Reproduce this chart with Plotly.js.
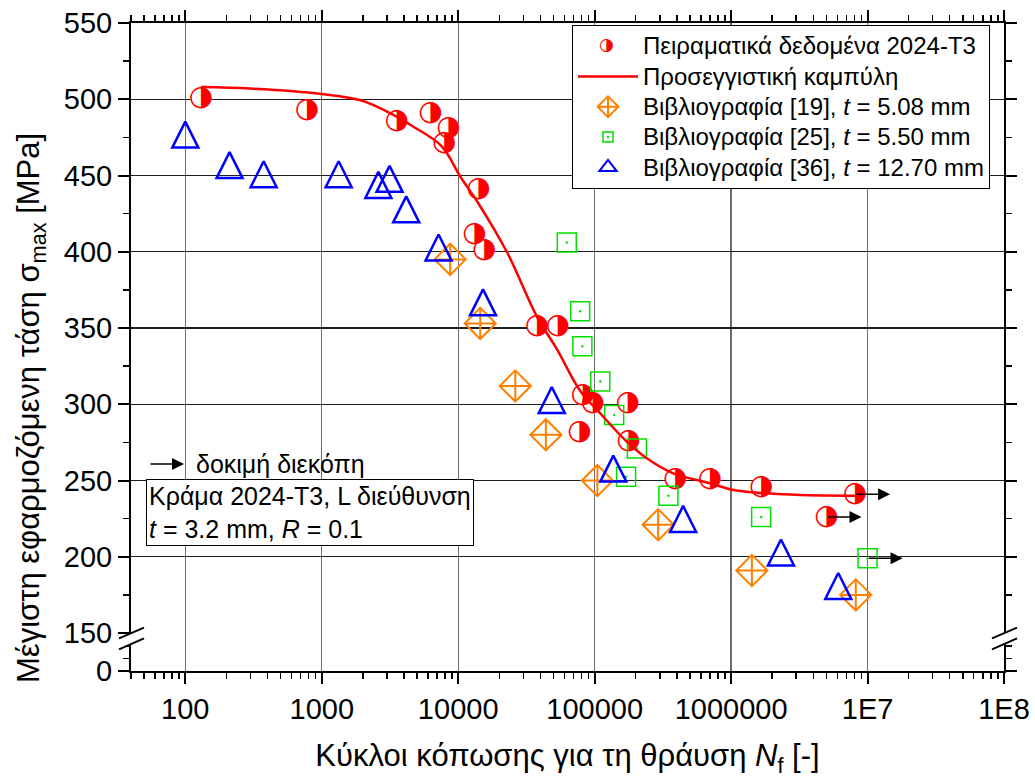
<!DOCTYPE html>
<html>
<head>
<meta charset="utf-8">
<script src="https://cdn.plot.ly/plotly-3.0.1.min.js"></script>
<style>
html,body{margin:0;padding:0;background:#fff;}
#chart{width:1035px;height:778px;}
</style>
</head>
<body>
<div id="chart"></div>
<script>
// ---------------- data ----------------
const expCycles = [130, 780, 3550, 6250, 7900, 8500, 13150, 14100, 15500, 37800, 53600, 77400, 81800, 97000, 175000, 177000, 389000, 700000, 1660000, 5000000, 8100000];
const expStress = [501, 493, 486, 491, 471, 481, 411.5, 441, 401, 351, 351, 281.5, 306, 301, 301, 276, 251, 251, 246, 226, 241];
const expRunout = [false,false,false,false,false,false,false,false,false,false,false,false,false,false,false,false,false,false,false,true,true];

const fitCycles = [130, 300, 1000, 1900, 2700, 4700, 7600, 10400, 14000, 23000, 38000, 53000, 78000, 110000, 172000, 241000, 377000, 700000, 1040000, 1820000, 3200000, 8100000];
const fitStress = [508, 507, 503.5, 499.5, 494, 482, 469, 449, 432, 399, 357, 336, 309, 294, 275.5, 264.6, 254.7, 248.2, 243.8, 241.6, 240.5, 240];

const ref19Cycles = [8730, 14500, 26200, 43900, 104700, 292000, 1420000, 8200000];
const ref19Stress = [395, 353, 312, 280, 250, 221, 191, 175];

const ref25Cycles = [62500, 78300, 81300, 110000, 139000, 170000, 204000, 347000, 1660000, 10000000];
const ref25Stress = [406, 361, 338, 315, 293, 252.5, 271, 240, 226, 199];
const ref25Runout = [false,false,false,false,false,false,false,false,false,true];

const ref36Cycles = [100, 211, 375, 1330, 2600, 3140, 4160, 7180, 15200, 48500, 137000, 445000, 2320000, 6100000];
const ref36Stress = [474, 454, 448, 448, 441, 445, 425, 400, 364, 300, 255, 222, 200, 178];

const xTickVals = [100, 1000, 10000, 100000, 1000000, 10000000, 100000000];
const xTickText = ['100', '1000', '10000', '100000', '1000000', '1E7', '1E8'];
const yTickVals = [150, 200, 250, 300, 350, 400, 450, 500, 550];
const yGridVals = [200, 250, 300, 350, 400, 450, 500];
const yLowTickVals = [0];

const seriesNames = [
  'Πειραματικά δεδομένα 2024-T3',
  'Προσεγγιστική καμπύλη',
  'Βιβλιογραφία [19], <i>t</i> = 5.08 mm',
  'Βιβλιογραφία [25], <i>t</i> = 5.50 mm',
  'Βιβλιογραφία [36], <i>t</i> = 12.70 mm'
];
const xTitle = 'Κύκλοι κόπωσης για τη θράυση <i>N</i><sub>f</sub> [-]';
const yTitle = 'Μέγιστη εφαρμοζόμενη τάση σ<sub>max</sub> [MPa]';
const noteText = 'Κράμα 2024-T3, L διεύθυνση<br><i>t</i> = 3.2 mm, <i>R</i> = 0.1';
const runoutText = 'δοκιμή διεκόπη';

// ---------------- styling ----------------
const FONT = 'Liberation Sans, Arial, Helvetica, sans-serif';
const RED = '#FF0000', ORANGE = '#FF8000', GREEN = '#00E000', BLUE = '#0000FF';
const xRange = [Math.log10(40), 8];
const yRange = [141.5, 550];
const legName = s => '<span style="font-size:24px">' + s + '</span>';
// legend-only copy of a series: same points, all drawn as "unselected" with zero opacity
const legendOnly = {selectedpoints: [], unselected: {marker: {opacity: 0}}, hoverinfo: 'skip'};

const traces = [
  { // experimental (white disc under the glyph, legend entry)
    x: expCycles, y: expStress, type: 'scatter', mode: 'markers', name: legName(seriesNames[0]),
    marker: {symbol: 'circle', size: 21, color: 'white', line: {color: RED, width: 0}},
    xaxis: 'x', yaxis: 'y'
  },
  { // experimental half-filled glyph
    x: expCycles, y: expStress, type: 'scatter', mode: 'text', text: '◑', showlegend: false,
    textposition: 'middle center',
    textfont: {family: 'DejaVu Sans', size: 28, color: RED},
    xaxis: 'x', yaxis: 'y', hoverinfo: 'skip'
  },
  { // fitted curve
    x: fitCycles, y: fitStress, type: 'scatter', mode: 'lines', name: legName(seriesNames[1]),
    line: {color: RED, width: 2.5, shape: 'spline', smoothing: 1},
    xaxis: 'x2', yaxis: 'y3'
  },
  {
    x: ref19Cycles, y: ref19Stress, type: 'scatter', mode: 'markers', name: legName(seriesNames[2]),
    marker: {symbol: 'diamond-cross-open', size: 24, color: ORANGE, line: {color: ORANGE, width: 2}},
    xaxis: 'x', yaxis: 'y'
  },
  Object.assign({ // legend symbol for [25]
    x: ref25Cycles, y: ref25Stress, type: 'scatter', mode: 'markers', name: legName(seriesNames[3]),
    marker: {symbol: 'square-open-dot', size: 10, color: GREEN, line: {color: GREEN, width: 1.5}},
    xaxis: 'x', yaxis: 'y'
  }, legendOnly),
  Object.assign({ // legend symbol for [36]
    x: ref36Cycles, y: ref36Stress, type: 'scatter', mode: 'markers', name: legName(seriesNames[4]),
    marker: {symbol: 'triangle-up-open', size: 15, color: BLUE, line: {color: BLUE, width: 2}},
    xaxis: 'x', yaxis: 'y'
  }, legendOnly),
  {
    x: ref25Cycles, y: ref25Stress, type: 'scatter', mode: 'markers', name: seriesNames[3], showlegend: false,
    marker: {symbol: 'square-open-dot', size: 19, color: GREEN, line: {color: GREEN, width: 1.5}},
    xaxis: 'x', yaxis: 'y'
  },
  { // triangles drawn as tall triangles, centred on the data point
    x: ref36Cycles, y: ref36Stress, type: 'scatter', mode: 'markers', name: seriesNames[4], showlegend: false,
    marker: {symbol: 'arrow-down-open', angle: 180, size: 26, standoff: 17.3, color: BLUE, line: {color: BLUE, width: 2.5}},
    xaxis: 'x', yaxis: 'y'
  },
  { // holds the lower (0) segment of the broken y axis
    x: [], y: [], type: 'scatter', mode: 'markers', showlegend: false, xaxis: 'x', yaxis: 'y2', hoverinfo: 'skip'
  }
];

// ---------------- annotations ----------------
const annotations = [];
function addRunouts(xs, ys, flags) {
  for (let i = 0; i < xs.length; i++) {
    if (!flags[i]) continue;
    annotations.push({
      x: Math.log10(xs[i]), y: ys[i], xref: 'x', yref: 'y',
      showarrow: true, text: '', ax: -35, ay: 0, axref: 'pixel', ayref: 'pixel',
      xshift: 35, arrowhead: 2, arrowsize: 1.6, arrowwidth: 1.5, arrowcolor: '#000', standoff: 0
    });
  }
}
addRunouts(expCycles, expStress, expRunout);
addRunouts(ref25Cycles, ref25Stress, ref25Runout);

// helpers for paper coordinates from pixel positions in the 1035x778 frame
const PL = 131, PW = 873, PB = 671, PH = 648;
const px = v => (v - PL) / PW;
const py = v => (PB - v) / PH;

annotations.push(
  { // y axis title
    text: yTitle, xref: 'paper', yref: 'paper', x: px(31), y: py(408), textangle: -90,
    showarrow: false, font: {family: FONT, size: 31, color: '#000'}, xanchor: 'center', yanchor: 'middle'
  },
  { // key arrow
    text: '', xref: 'paper', yref: 'paper', x: px(184), y: py(464), showarrow: true,
    ax: -35, ay: 0, axref: 'pixel', ayref: 'pixel', arrowhead: 2, arrowsize: 1.6, arrowwidth: 1.5, arrowcolor: '#000'
  },
  { // key text
    text: runoutText, xref: 'paper', yref: 'paper', x: px(194), y: py(464), xanchor: 'left', yanchor: 'middle',
    showarrow: false, font: {family: FONT, size: 25, color: '#000'}
  },
  { // note box
    text: noteText, xref: 'paper', yref: 'paper', x: px(146), y: py(479), xanchor: 'left', yanchor: 'top',
    align: 'left', showarrow: false, bordercolor: '#000', borderwidth: 1, borderpad: 2, bgcolor: 'white',
    font: {family: FONT, size: 25, color: '#000'}
  },
  { // half-filled symbol inside the legend
    text: '◑', xref: 'paper', yref: 'paper', x: px(606), y: py(44), xanchor: 'center', yanchor: 'middle',
    showarrow: false, font: {family: 'DejaVu Sans', size: 17, color: RED}
  }
);

// ---------------- axis break marks ----------------
function breakShapes(axisPx) {
  const x0 = px(axisPx - 12), x1 = px(axisPx + 13);
  const a0 = py(638.3), a1 = py(627.7), b0 = py(649.3), b1 = py(638.3);
  return [
    {type: 'path', xref: 'paper', yref: 'paper', layer: 'above',
     path: `M${x0},${a0} L${x1},${a1} L${x1},${b1} L${x0},${b0} Z`,
     fillcolor: 'white', line: {width: 0}},
    {type: 'line', xref: 'paper', yref: 'paper', layer: 'above', x0: x0, y0: a0, x1: x1, y1: a1, line: {color: '#000', width: 2}},
    {type: 'line', xref: 'paper', yref: 'paper', layer: 'above', x0: x0, y0: b0, x1: x1, y1: b1, line: {color: '#000', width: 2}}
  ];
}
const shapes = [...breakShapes(131), ...breakShapes(1004)];

const tickFont = {family: FONT, size: 29, color: '#000'};
const layout = {
  width: 1035, height: 778,
  margin: {l: 131, r: 31, t: 23, b: 107, pad: 0},
  paper_bgcolor: 'white', plot_bgcolor: 'white',
  font: {family: FONT, size: 24, color: '#000'},
  showlegend: true,
  hovermode: false,
  legend: {
    x: px(572), y: py(25), xanchor: 'left', yanchor: 'top',
    bgcolor: 'white', bordercolor: '#000', borderwidth: 1,
    font: {family: FONT, size: 21, color: '#000'},
    itemwidth: 60, tracegroupgap: 0
  },
  xaxis: {
    type: 'log', range: xRange, anchor: 'y2', domain: [0, 1],
    tickmode: 'array', tickvals: xTickVals, ticktext: xTickText, tickfont: tickFont,
    ticks: 'outside', ticklen: 11, tickwidth: 2, tickcolor: '#000',
    showline: true, linewidth: 2, linecolor: '#000', mirror: false,
    showgrid: true, gridcolor: '#6e6e6e', gridwidth: 1.3, zeroline: false,
    minor: {ticks: 'outside', ticklen: 6, tickwidth: 1.5, tickcolor: '#000', dtick: 'D1', showgrid: false},
    title: {text: xTitle, font: {family: FONT, size: 31, color: '#000'}, standoff: 27}
  },
  xaxis2: {
    type: 'log', range: xRange, overlaying: 'x', side: 'top', anchor: 'y3',
    tickmode: 'array', tickvals: xTickVals, showticklabels: false,
    ticks: 'outside', ticklen: 11, tickwidth: 2, tickcolor: '#000',
    showline: true, linewidth: 2, linecolor: '#000',
    showgrid: false, zeroline: false,
    minor: {ticks: 'outside', ticklen: 6, tickwidth: 1.5, tickcolor: '#000', dtick: 'D1', showgrid: false}
  },
  yaxis: {
    domain: [0.0386, 1], range: yRange, anchor: 'x',
    tickmode: 'array', tickvals: yTickVals, tickfont: tickFont,
    ticks: 'outside', ticklen: 11, tickwidth: 2, tickcolor: '#000',
    showline: true, linewidth: 2, linecolor: '#000', mirror: 'ticks',
    showgrid: false, zeroline: false,
    minor: {ticks: 'outside', ticklen: 6, tickwidth: 1.5, tickcolor: '#000', dtick: 25, tick0: 0, showgrid: false}
  },
  yaxis2: {
    domain: [0, 0.0386], range: [0, 10], anchor: 'x',
    tickmode: 'array', tickvals: yLowTickVals, tickfont: tickFont,
    ticks: 'outside', ticklen: 11, tickwidth: 2, tickcolor: '#000',
    showline: true, linewidth: 2, linecolor: '#000', mirror: 'ticks',
    showgrid: false, zeroline: false,
    minor: {ticks: 'outside', ticklen: 6, tickwidth: 1.5, tickcolor: '#000', dtick: 5, tick0: 0, showgrid: false}
  },
  yaxis3: {
    overlaying: 'y', anchor: 'x2', range: yRange,
    tickmode: 'array', tickvals: yGridVals, showticklabels: false, ticks: '',
    showline: false, showgrid: true, gridcolor: '#1e1e1e', gridwidth: 1.3, zeroline: false
  },
  annotations: annotations,
  shapes: shapes
};

Plotly.newPlot('chart', traces, layout, {staticPlot: true, displayModeBar: false});
</script>
</body>
</html>
